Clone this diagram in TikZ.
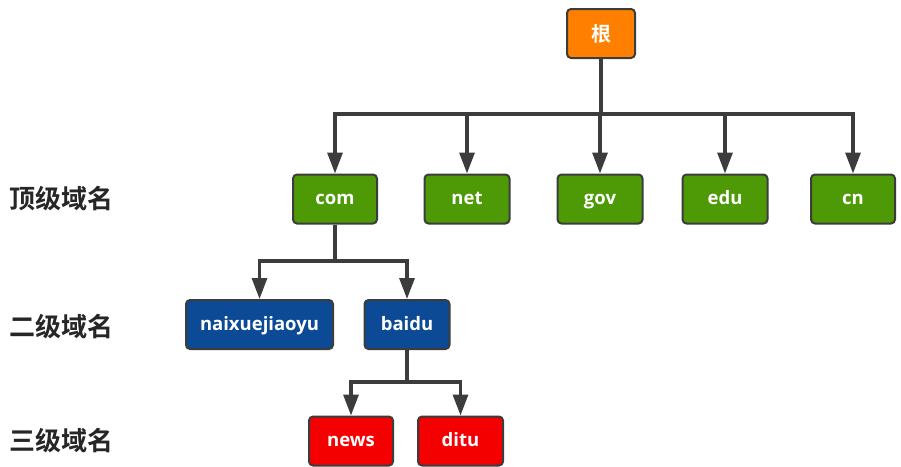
\documentclass[tikz,border=0pt]{standalone}
\usepackage{fontspec}
\setmainfont{Noto Sans CJK SC}[BoldFont={Noto Sans CJK SC Bold}]
\newfontfamily\boxfont{Open Sans}[BoldFont={Open Sans Bold}]
\usetikzlibrary{arrows.meta}
\definecolor{cOrange}{HTML}{FF8000}
\definecolor{cGreen}{HTML}{4E9A06}
\definecolor{cBlue}{HTML}{0C4A96}
\definecolor{cRed}{HTML}{F50000}
\definecolor{cLine}{HTML}{3C3C3C}
\begin{document}
\begin{tikzpicture}[x=1pt,y=-1pt,
  box/.style={draw=cLine,line width=2pt,rounded corners=4pt,text=white,
    font=\boxfont\bfseries\fontsize{18.5}{18.5}\selectfont,inner sep=0pt,
    minimum height=49pt,text height=13.5pt,text depth=2pt,anchor=center},
  cjkbox/.style={box,font=\bfseries\fontsize{20}{20}\selectfont,text height=16pt,text depth=1pt},
  wire/.style={draw=cLine,line width=3.2pt},
  conn/.style={wire,-{Triangle[width=15pt,length=21pt]}},
  lvl/.style={font=\bfseries\fontsize{26}{26}\selectfont,text=black!85,anchor=west,inner sep=0pt}]
\useasboundingbox (0,0) rectangle (901,466);
\node[cjkbox,fill=cOrange,minimum width=68pt] (root) at (601,33.5) {根};
\node[box,fill=cGreen,minimum width=84pt] (com) at (335,199) {com};
\node[box,fill=cGreen,minimum width=85pt] (net) at (467,199) {net};
\node[box,fill=cGreen,minimum width=85pt] (gov) at (600,199) {gov};
\node[box,fill=cGreen,minimum width=85pt] (edu) at (725,199) {edu};
\node[box,fill=cGreen,minimum width=84pt] (cn) at (853,199) {cn};
\node[box,fill=cBlue,minimum width=147pt] (naix) at (259.5,324.5) {naixuejiaoyu};
\node[box,fill=cBlue,minimum width=85pt] (baidu) at (407,324.5) {baidu};
\node[box,fill=cRed,minimum width=84pt] (news) at (351,441) {news};
\node[box,fill=cRed,minimum width=85pt] (ditu) at (460.5,441) {ditu};
\node[lvl] (l1) at (9,199) {顶级域名};
\node[lvl] (l2) at (9,327) {二级域名};
\node[lvl] (l3) at (9,441) {三级域名};
\coordinate (j1) at (601,114);
\coordinate (j2) at (335,261);
\coordinate (j3) at (407,382);
\draw[wire] (root.south) -- (j1);
\foreach \n in {com,net,gov,edu,cn}{\draw[conn] (j1) -| (\n.north);}
\draw[wire] (com.south) -- (j2);
\draw[conn] (j2) -| (naix.north);
\draw[conn] (j2) -| (baidu.north);
\draw[wire] (baidu.south) -- (j3);
\draw[conn] (j3) -| (news.north);
\draw[conn] (j3) -| (ditu.north);
\end{tikzpicture}
\end{document}
